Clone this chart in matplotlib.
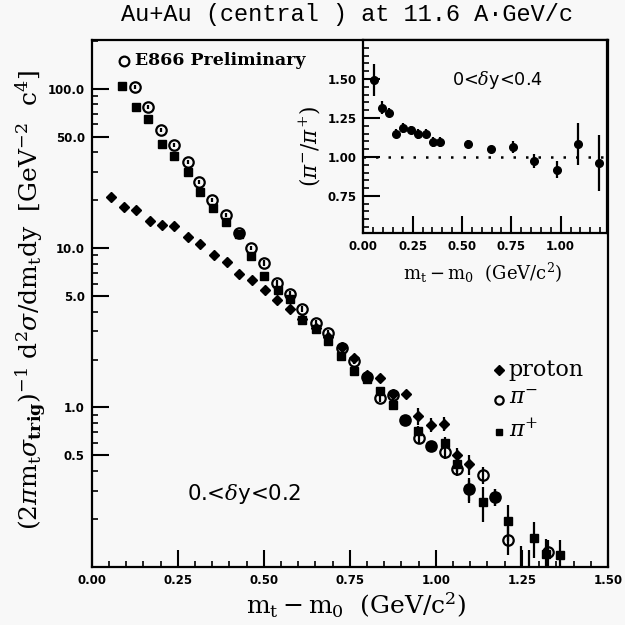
import matplotlib
matplotlib.use("Agg")
import matplotlib.pyplot as plt
from matplotlib.ticker import FixedLocator, MultipleLocator, FixedFormatter, NullFormatter

plt.rcParams['mathtext.fontset'] = 'dejavuserif'

# spectra, m_t - m_0 in GeV/c^2, errors are relative
p_mt = [0.056, 0.093, 0.130, 0.168, 0.204, 0.240, 0.279, 0.315, 0.354, 0.392,
        0.428, 0.466, 0.503, 0.538, 0.577, 0.612, 0.651, 0.687, 0.728, 0.762,
        0.800, 0.838, 0.875, 0.913, 0.949, 0.985, 1.025, 1.062, 1.097]
p_val = [20.9, 18.1, 17.3, 14.9, 14.0, 13.8, 11.8, 10.6, 9.1, 8.2,
         6.9, 6.35, 5.44, 4.71, 4.16, 3.6, 3.15, 2.75, 2.4, 2.05,
         1.6, 1.52, 1.22, 1.21, 0.88, 0.78, 0.79, 0.50, 0.44]
p_err = [0.02] * 15 + [0.03, 0.03, 0.03, 0.04, 0.04, 0.05, 0.06, 0.06, 0.07,
                       0.12, 0.1, 0.1, 0.12, 0.15]

pim_mt = [0.125, 0.163, 0.202, 0.240, 0.279, 0.312, 0.351, 0.389, 0.428, 0.463,
          0.502, 0.538, 0.577, 0.612, 0.651, 0.687, 0.728, 0.762, 0.800, 0.838,
          0.875, 0.910, 0.950, 0.985, 1.026, 1.062, 1.097, 1.136, 1.173, 1.211,
          1.270, 1.326]
pim_val = [102.5, 77.4, 55.3, 44.6, 35.0, 26.2, 20.1, 16.2, 12.4, 10.0,
           8.07, 6.05, 5.16, 4.16, 3.40, 2.94, 2.37, 1.95, 1.56, 1.15,
           1.19, 0.84, 0.645, 0.57, 0.525, 0.41, 0.306, 0.375, 0.275, 0.147,
           0.085, 0.123]
pim_err = [0.03] * 10 + [0.04] * 8 + [0.05, 0.06, 0.06, 0.07, 0.08, 0.08, 0.1,
                                      0.1, 0.15, 0.12, 0.12, 0.2, 0.5, 0.2]

pip_mt = [0.089, 0.128, 0.163, 0.204, 0.240, 0.279, 0.314, 0.353, 0.391, 0.428,
          0.463, 0.502, 0.540, 0.575, 0.612, 0.651, 0.687, 0.725, 0.762, 0.800,
          0.838, 0.875, 0.910, 0.949, 0.985, 1.026, 1.062, 1.097, 1.136, 1.173,
          1.211, 1.248, 1.285, 1.319, 1.360]
pip_val = [104.5, 77.4, 64.6, 45.2, 38.0, 30.3, 22.4, 17.9, 14.7, 12.2,
           8.89, 6.73, 5.5, 4.80, 3.53, 3.1, 2.6, 2.1, 1.69, 1.5,
           1.27, 1.04, 0.84, 0.71, 0.57, 0.60, 0.44, 0.306, 0.255, 0.275,
           0.194, 0.09, 0.152, 0.12, 0.118]
pip_err = [0.03] * 10 + [0.04] * 8 + [0.05, 0.05, 0.06, 0.06, 0.06, 0.07, 0.08,
                                      0.08, 0.1, 0.18, 0.25, 0.12, 0.25, 0.5,
                                      0.25, 0.25, 0.25]

# pi-/pi+ ratio for the inset
r_mt = [0.054, 0.093, 0.130, 0.165, 0.202, 0.241, 0.278, 0.316, 0.353, 0.388,
        0.531, 0.645, 0.756, 0.865, 0.982, 1.090, 1.194]
r_val = [1.493, 1.317, 1.283, 1.150, 1.186, 1.172, 1.146, 1.150, 1.096, 1.096,
         1.086, 1.048, 1.064, 0.972, 0.919, 1.082, 0.961]
r_err = [0.105, 0.04, 0.03, 0.03, 0.03, 0.025, 0.03, 0.03, 0.03, 0.03,
         0.025, 0.025, 0.04, 0.045, 0.055, 0.135, 0.18]

y_major = [0.5, 1.0, 5.0, 10.0, 50.0, 100.0]
y_major_labels = ['0.5', '1.0', '5.0', '10.0', '50.0', '100.0']
y_minor = [0.2, 0.3, 0.4, 0.6, 0.7, 0.8, 0.9, 2, 3, 4, 6, 7, 8, 9,
           20, 30, 40, 60, 70, 80, 90, 200]
x_major_labels = ['0.00', '0.25', '0.50', '0.75', '1.00', '1.25', '1.50']
r_x_labels = ['0.00', '0.25', '0.50', '0.75', '1.00']
r_y_labels = ['0.75', '1.00', '1.25', '1.50']

BG = '#f8f8f8'
TICKFONT = dict(family='DejaVu Sans', weight='bold', size=8.5)


def abs_err(vals, rel):
    return [v * e for v, e in zip(vals, rel)]


def style_ticks(a):
    a.tick_params(which='major', direction='in', length=12, width=1.5,
                  top=False, right=False, pad=5)
    a.tick_params(which='minor', direction='in', length=4.5, width=1.2,
                  top=False, right=False)
    for s in a.spines.values():
        s.set_linewidth(1.6)
    for lbl in a.get_xticklabels() + a.get_yticklabels():
        lbl.set_fontfamily(TICKFONT['family'])
        lbl.set_fontweight(TICKFONT['weight'])
        lbl.set_fontsize(TICKFONT['size'])


fig = plt.figure(figsize=(6.25, 6.25), dpi=100, facecolor=BG)
ax = fig.add_axes([0.1467, 0.0933, 0.826, 0.8427], facecolor=BG)

ax.errorbar(pim_mt, pim_val, yerr=abs_err(pim_val, pim_err), fmt='o', ms=7.5,
            mfc='none', mec='k', mew=1.6, ecolor='k', elinewidth=1.6, capsize=0)
ax.errorbar(pip_mt, pip_val, yerr=abs_err(pip_val, pip_err), fmt='s', ms=5.5,
            color='k', ecolor='k', elinewidth=1.6, capsize=0)
ax.errorbar(p_mt, p_val, yerr=abs_err(p_val, p_err), fmt='D', ms=5,
            color='k', ecolor='k', elinewidth=1.6, capsize=0)

ax.set_yscale('log')
ax.set_xlim(0, 1.5)
ax.set_ylim(0.1, 203)
ax.xaxis.set_minor_locator(MultipleLocator(0.05))
ax.yaxis.set_major_locator(FixedLocator(y_major))
ax.yaxis.set_major_formatter(FixedFormatter(y_major_labels))
ax.yaxis.set_minor_locator(FixedLocator(y_minor))
ax.yaxis.set_minor_formatter(NullFormatter())
ax.set_xticks([0, 0.25, 0.5, 0.75, 1.0, 1.25, 1.5])
ax.set_xticklabels(x_major_labels)
style_ticks(ax)

# "E866 Preliminary" note and legend
ax.plot([0.094], [150], 'o', ms=7, mfc='none', mec='k', mew=1.6)
ax.text(0.125, 150, 'E866 Preliminary', family='DejaVu Serif', weight='bold',
        fontsize=12.5, va='center', ha='left')
ax.plot([1.183], [1.73], 'D', ms=5, color='k')
ax.text(1.212, 1.73, 'proton', family='DejaVu Serif', fontsize=16, va='center')
ax.plot([1.183], [1.12], 'o', ms=6, mfc='none', mec='k', mew=1.6)
ax.text(1.212, 1.16, r'$\pi^{-}$', fontsize=16, va='center')
ax.plot([1.183], [0.70], 's', ms=5, color='k')
ax.text(1.212, 0.73, r'$\pi^{+}$', fontsize=16, va='center')
ax.text(0.278, 0.285, r'0.<$\delta$y<0.2', family='DejaVu Sans', fontsize=15.4,
        va='center', ha='left')

fig.text(0.555, 0.976, 'Au+Au (central ) at 11.6 A\u00b7GeV/c',
         family='Liberation Mono', fontsize=17, ha='center', va='center')
fig.text(0.049, 0.52,
         r'$(2\pi \mathrm{m_t}\sigma_{\mathbf{trig}})^{-1}\ \mathrm{d^2}\sigma/\mathrm{dm_t dy}\ \ [\mathrm{GeV^{-2}\ \ c^4}]$',
         rotation=90, fontsize=18, ha='center', va='center')
fig.text(0.57, 0.031, r'$\mathrm{m_t - m_0\ \ (GeV/c^2)}$', fontsize=18,
         ha='center', va='center')

# inset with the pion ratio
ax2 = fig.add_axes([0.5813, 0.6267, 0.39, 0.3093], facecolor=BG)
ax2.errorbar(r_mt, r_val, yerr=r_err, fmt='o', ms=5.5, color='k',
             ecolor='k', elinewidth=1.6, capsize=0)
ax2.axhline(1.0, color='k', lw=1.8, ls=(0, (1, 4)))
ax2.set_xlim(0, 1.235)
ax2.set_ylim(0.51, 1.75)
ax2.set_xticks([0, 0.25, 0.5, 0.75, 1.0])
ax2.set_xticklabels(r_x_labels)
ax2.xaxis.set_minor_locator(MultipleLocator(0.05))
ax2.set_yticks([0.75, 1.0, 1.25, 1.5])
ax2.set_yticklabels(r_y_labels)
ax2.yaxis.set_minor_locator(MultipleLocator(0.05))
style_ticks(ax2)
ax2.text(0.549, 0.793, r'0<$\delta$y<0.4', transform=ax2.transAxes,
         family='DejaVu Sans', fontsize=12.7, ha='center', va='center')
fig.text(0.496, 0.765, r'$(\pi^{-}/\pi^{+})$', rotation=90, fontsize=15.5,
         ha='center', va='center')
fig.text(0.773, 0.563, r'$\mathrm{m_t - m_0\ \ (GeV/c^2)}$', fontsize=13,
         ha='center', va='center')

fig.savefig('out.png', dpi=100, facecolor=BG)
